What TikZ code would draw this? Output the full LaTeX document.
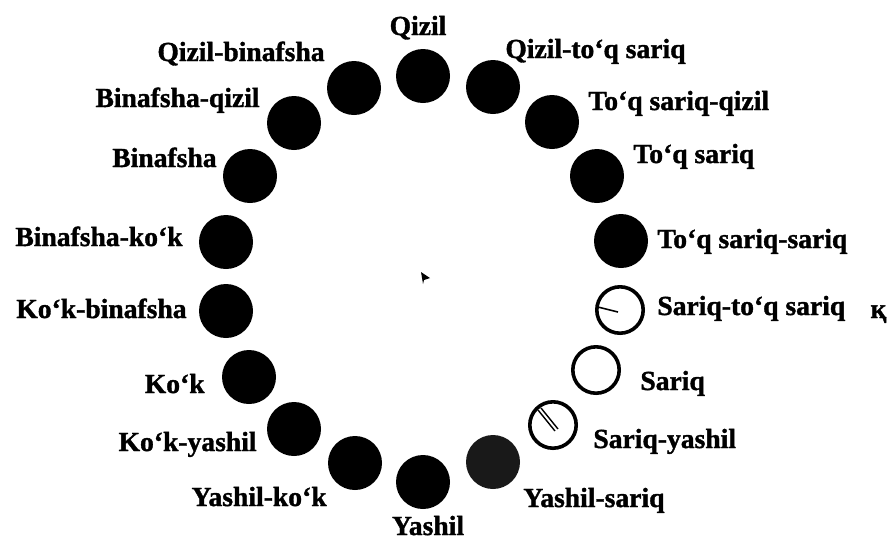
\documentclass[tikz,border=0pt]{standalone}
\usepackage{fontspec}
\setmainfont{Liberation Serif}[BoldFeatures={FakeBold=1.3}]
\usepackage{tikz}

\begin{document}
\begin{tikzpicture}[x=0.5pt, y=-0.5pt,
  dot/.style={circle, fill=black, inner sep=0pt, minimum size=27pt},
  ring/.style={circle, draw=black, line width=1.8pt, inner sep=0pt, minimum size=23.2pt},
  lbl/.style={inner sep=0pt, font=\fontsize{13.8}{16}\selectfont\bfseries}]
\useasboundingbox (0,0) rectangle (888,538);
% colour wheel (top, clockwise)
\node[dot] (qizil)    at (423,76)  {};
\node[dot] (qiztoq)   at (493,87)  {};
\node[dot] (toqqiz)   at (552,122) {};
\node[dot] (toq)      at (597,176) {};
\node[dot] (toqsar)   at (621,241) {};
\node[ring] (sartoq)  at (620,310) {};
\node[ring] (sariq)   at (596,370) {};
\node[ring] (saryash) at (553,425) {};
\node[dot, fill=black!90] (yashsar) at (493,462) {};
\node[dot] (yashil)   at (423,482) {};
\node[dot] (yashkok)  at (355,463) {};
\node[dot] (kokyash)  at (294,429) {};
\node[dot] (kok)      at (249,377) {};
\node[dot] (kokbin)   at (226,311) {};
\node[dot] (binkok)   at (226,242) {};
\node[dot] (bin)      at (250,176) {};
\node[dot] (binqiz)   at (294,123) {};
\node[dot] (qizbin)   at (354,88)  {};
% marks inside the light circles
\draw[line width=0.8pt] (598,307) -- (618,312);
\draw[line width=0.7pt] (538,410) -- (555,431);
\draw[line width=0.7pt] (541,408) -- (558,429);
% centre mark
\fill (421,272) -- (430,278) -- (424,280) -- (423,284) -- cycle;
% labels, right side
\node[lbl, anchor=base] (lqizil) at (418,35) {Qizil};
\node[lbl, anchor=base west] (lqiztoq) at (505,58) {Qizil-to‘q sariq};
\node[lbl, anchor=base west] (ltoqqiz) at (588,110) {To‘q sariq-qizil};
\node[lbl, anchor=base west] (ltoq) at (633,163) {To‘q sariq};
\node[lbl, anchor=base west] (ltoqsar) at (657,248) {To‘q sariq-sariq};
\node[lbl, anchor=base west] (lsartoq) at (657,315) {Sariq-to‘q sariq};
\node[lbl, anchor=base west] (lqa) at (870,318) {қ};
\node[lbl, anchor=base west] (lsariq) at (640,390) {Sariq};
\node[lbl, anchor=base west] (lsaryash) at (593,448) {Sariq-yashil};
\node[lbl, anchor=base west] (lyashsar) at (523,507) {Yashil-sariq};
% labels, left side
\node[lbl, anchor=base] (lyashil) at (428,535) {Yashil};
\node[lbl, anchor=base east] (lyashkok) at (327,506) {Yashil-ko‘k};
\node[lbl, anchor=base east] (lkokyash) at (257,451) {Ko‘k-yashil};
\node[lbl, anchor=base east] (lkok) at (205,393) {Ko‘k};
\node[lbl, anchor=base east] (lkokbin) at (187,318) {Ko‘k-binafsha};
\node[lbl, anchor=base east] (lbinkok) at (183,246) {Binafsha-ko‘k};
\node[lbl, anchor=base east] (lbin) at (217,167) {Binafsha};
\node[lbl, anchor=base east] (lbinqiz) at (260,107) {Binafsha-qizil};
\node[lbl, anchor=base east] (lqizbin) at (325,61) {Qizil-binafsha};
\end{tikzpicture}
\end{document}
